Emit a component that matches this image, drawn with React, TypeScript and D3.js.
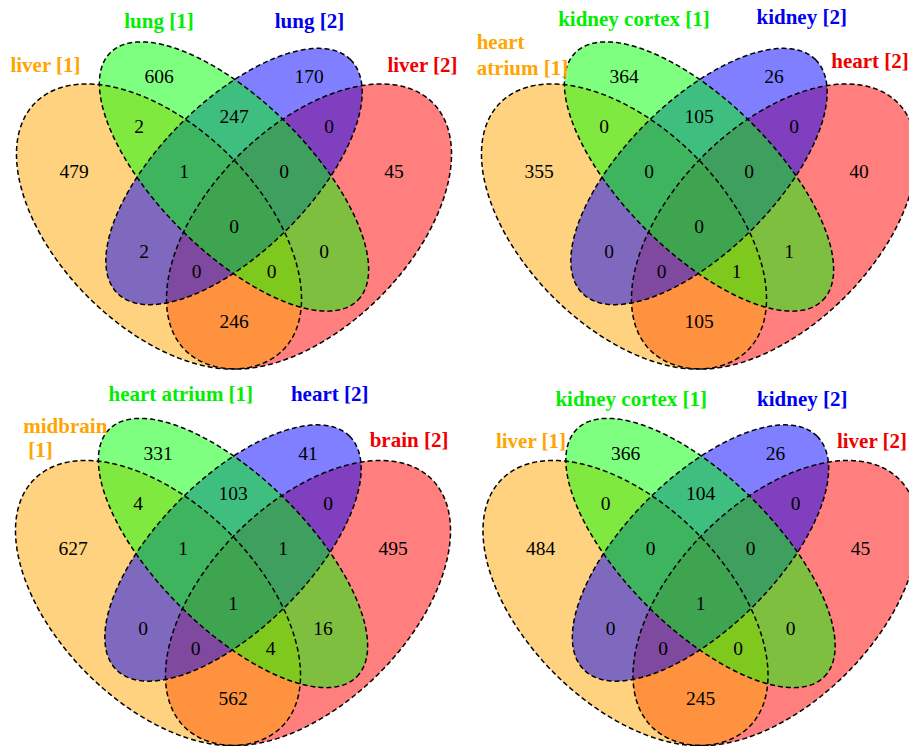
import React from "react";
import * as d3 from "d3";

// region order: A = set 1 (orange), B = set 2 (green), C = set 3 (blue), D = set 4 (red)
const regionKeys = ["A", "B", "C", "D", "AB", "AC", "AD", "BC", "BD", "CD", "ABC", "ABD", "ACD", "BCD", "ABCD"];

const categoriesLiverLung = ["liver [1]", "lung [1]", "lung [2]", "liver [2]"];
const countsLiverLung = [479, 606, 170, 45, 2, 2, 246, 247, 0, 0, 1, 0, 0, 0, 0];

const categoriesHeartKidney = ["heart\natrium [1]", "kidney cortex [1]", "kidney [2]", "heart [2]"];
const countsHeartKidney = [355, 364, 26, 40, 0, 0, 105, 105, 1, 0, 0, 1, 0, 0, 0];

const categoriesBrainHeart = ["midbrain\n[1]", "heart atrium [1]", "heart [2]", "brain [2]"];
const countsBrainHeart = [627, 331, 41, 495, 4, 0, 562, 103, 16, 0, 1, 4, 0, 1, 1];

const categoriesLiverKidney = ["liver [1]", "kidney cortex [1]", "kidney [2]", "liver [2]"];
const countsLiverKidney = [484, 366, 26, 45, 0, 0, 245, 104, 0, 0, 0, 0, 0, 0, 1];

const fills = ["#FFA500", "#00FF00", "#0000FF", "#FF0000"];
const labelColors = ["#FFA500", "#00EE00", "#0000EE", "#EE0000"];

// quad venn geometry in unit coordinates (y up)
const ellipses = [
  { x: 0.35, y: 0.47, a: 0.35, b: 0.2, rot: -45 },
  { x: 0.5, y: 0.57, a: 0.35, b: 0.15, rot: -45 },
  { x: 0.5, y: 0.57, a: 0.33, b: 0.15, rot: 45 },
  { x: 0.65, y: 0.47, a: 0.35, b: 0.2, rot: 45 },
];
const drawOrder = [3, 0, 2, 1];

const regionPos: Record<string, [number, number]> = {
  A: [0.18, 0.58], B: [0.35, 0.77], C: [0.65, 0.77], D: [0.82, 0.58],
  AB: [0.31, 0.67], AC: [0.32, 0.42], AD: [0.5, 0.28], BC: [0.5, 0.69],
  BD: [0.68, 0.42], CD: [0.69, 0.67], ABC: [0.4, 0.58], ABD: [0.575, 0.38],
  ACD: [0.425, 0.38], BCD: [0.6, 0.58], ABCD: [0.5, 0.47],
};

type Line = { dx: number; dy: number };
type LabelLayout = { anchor: string; lines: Line[] };

const panels = [
  {
    cx: 234, cy: 226.5, cats: categoriesLiverLung, counts: countsLiverLung,
    labels: [
      { anchor: "middle", lines: [{ dx: -188.5, dy: -161.5 }] },
      { anchor: "middle", lines: [{ dx: -75, dy: -205 }] },
      { anchor: "middle", lines: [{ dx: 75.5, dy: -205 }] },
      { anchor: "middle", lines: [{ dx: 188.5, dy: -161.5 }] },
    ] as LabelLayout[],
  },
  {
    cx: 699, cy: 226.5, cats: categoriesHeartKidney, counts: countsHeartKidney,
    labels: [
      { anchor: "start", lines: [{ dx: -222.3, dy: -184.8 }, { dx: -222.3, dy: -158.2 }] },
      { anchor: "middle", lines: [{ dx: -65, dy: -207 }] },
      { anchor: "middle", lines: [{ dx: 102.7, dy: -209 }] },
      { anchor: "middle", lines: [{ dx: 171, dy: -165 }] },
    ] as LabelLayout[],
  },
  {
    cx: 233, cy: 603, cats: categoriesBrainHeart, counts: countsBrainHeart,
    labels: [
      { anchor: "start", lines: [{ dx: -209.7, dy: -177.3 }, { dx: -204.7, dy: -153.3 }] },
      { anchor: "middle", lines: [{ dx: -52.2, dy: -209.3 }] },
      { anchor: "middle", lines: [{ dx: 96.7, dy: -209.3 }] },
      { anchor: "middle", lines: [{ dx: 176, dy: -163.3 }] },
    ] as LabelLayout[],
  },
  {
    cx: 700.5, cy: 603, cats: categoriesLiverKidney, counts: countsLiverKidney,
    labels: [
      { anchor: "middle", lines: [{ dx: -169.5, dy: -162.3 }] },
      { anchor: "middle", lines: [{ dx: -69.3, dy: -204 }] },
      { anchor: "middle", lines: [{ dx: 101.8, dy: -204 }] },
      { anchor: "middle", lines: [{ dx: 171.5, dy: -162.3 }] },
    ] as LabelLayout[],
  },
];

const unit = 500;
const serif = '"Liberation Serif", "Times New Roman", Times, Tinos, "DejaVu Serif", serif';

function ellipsePath(e, x, y) {
  const r = (e.rot * Math.PI) / 180;
  const pts = d3.range(0, 360, 1).map((deg) => {
    const t = (deg * Math.PI) / 180;
    const px = e.a * Math.cos(t), py = e.b * Math.sin(t);
    return [e.x + px * Math.cos(r) - py * Math.sin(r), e.y + px * Math.sin(r) + py * Math.cos(r)];
  });
  return d3.line().x((d) => x(d[0])).y((d) => y(d[1])).curve(d3.curveLinearClosed)(pts as any);
}

function Venn({ p }) {
  const x = d3.scaleLinear().domain([0, 1]).range([p.cx - 0.5 * unit, p.cx + 0.5 * unit]);
  const y = d3.scaleLinear().domain([0, 1]).range([p.cy + 0.47 * unit, p.cy - 0.53 * unit]);
  return (
    <g>
      {drawOrder.map((i) => (
        <path key={"f" + i} d={ellipsePath(ellipses[i], x, y)} fill={fills[i]} fillOpacity={0.5} stroke="none" />
      ))}
      {ellipses.map((e, i) => (
        <path key={"s" + i} d={ellipsePath(e, x, y)} fill="none" stroke="#000" strokeWidth={1.5} strokeDasharray="5,3" />
      ))}
      {regionKeys.map((k, i) => (
        <text key={k} x={x(regionPos[k][0])} y={y(regionPos[k][1])} dy="0.34em" textAnchor="middle"
          style={{ fontFamily: serif, fontSize: "19.5px" }} fill="#000">
          {p.counts[i]}
        </text>
      ))}
      {p.cats.map((c, i) => {
        const lay = p.labels[i];
        return c.split("\n").map((txt, j) => (
          <text key={"c" + i + j} x={p.cx + lay.lines[j].dx} y={p.cy + lay.lines[j].dy} dy="0.33em"
            textAnchor={lay.anchor} style={{ fontFamily: serif, fontWeight: "bold", fontSize: "21px" }} fill={labelColors[i]}>
            {txt}
          </text>
        ));
      })}
    </g>
  );
}

export default function App() {
  return (
    <svg width={909} height={746} style={{ position: "absolute", left: 0, top: 0, background: "#fff" }}>
      {panels.map((p, i) => (
        <Venn key={i} p={p} />
      ))}
    </svg>
  );
}
